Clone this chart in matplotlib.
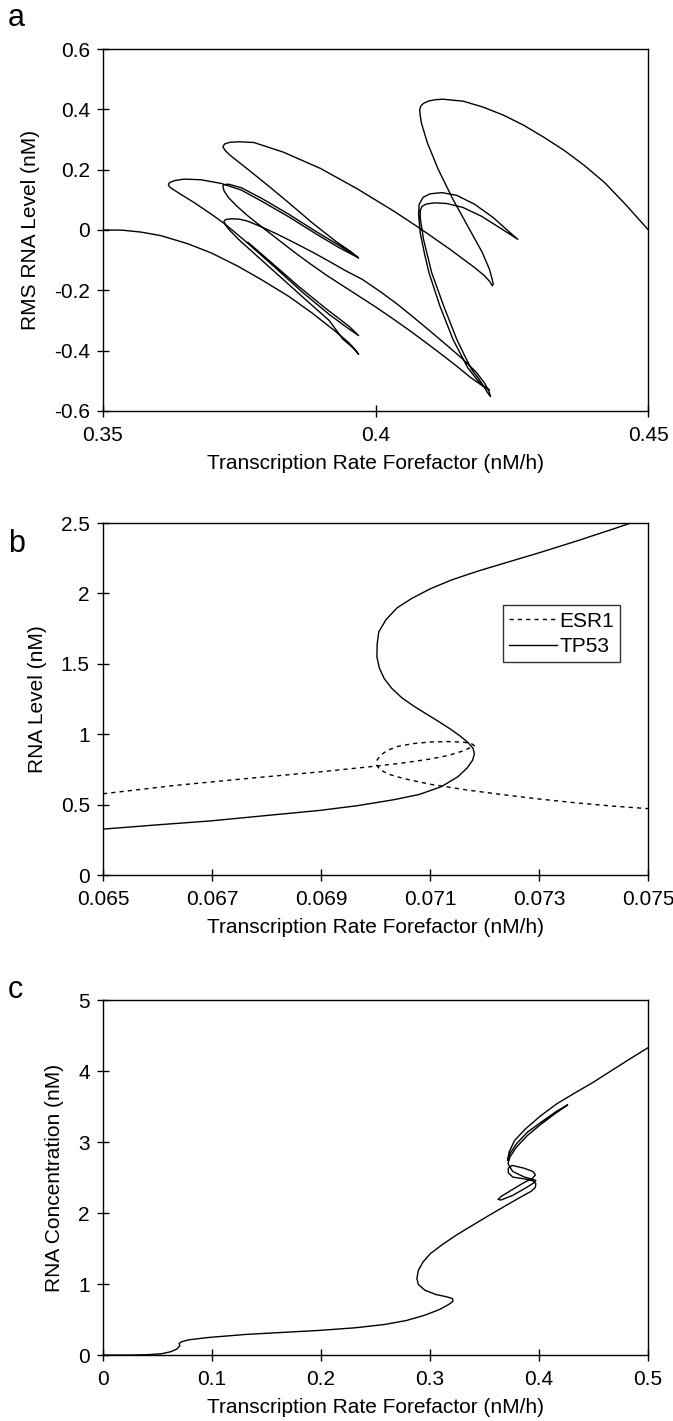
import matplotlib
matplotlib.use("Agg")
import matplotlib.pyplot as plt
from matplotlib.ticker import FuncFormatter

plt.rcParams['font.family'] = ['Liberation Sans', 'DejaVu Sans']
plt.rcParams['axes.unicode_minus'] = False

# ---------------- panel a : RMS RNA level vs forefactor ----------------
# main continuation branch
a_main_x = [0.35, 0.3535, 0.357, 0.3606, 0.3655, 0.3699, 0.3748, 0.3791, 0.3841, 0.3884, 0.3927, 0.3950, 0.3962, 0.3969,
            0.3965, 0.3955, 0.3940, 0.3915, 0.3865, 0.3822, 0.3779, 0.3748, 0.3732, 0.3724, 0.3722,
            0.3725, 0.3735, 0.3750, 0.3766, 0.3791, 0.3820, 0.3853, 0.3885, 0.3915, 0.3945, 0.3976, 0.4010, 0.4040,
            0.4070, 0.4100, 0.4130, 0.4160, 0.4185, 0.4200, 0.4208, 0.4211,
            0.4205, 0.4199, 0.4188, 0.4176, 0.4163, 0.4149, 0.4125, 0.4103, 0.4088, 0.4082, 0.4082, 0.4085, 0.4093,
            0.4108, 0.4130, 0.4160, 0.4195, 0.4230, 0.4261,
            0.4245, 0.4216, 0.4182, 0.4149, 0.4122, 0.4100, 0.4087, 0.4080, 0.4079, 0.4082, 0.4090, 0.4098, 0.4118,
            0.4142, 0.4169, 0.4193, 0.4205, 0.4209,
            0.4195, 0.4175, 0.4150, 0.4120, 0.4090, 0.4060, 0.4030, 0.4000, 0.3970, 0.3940, 0.3910, 0.3880, 0.3850,
            0.3820, 0.3790, 0.3765, 0.3745, 0.3730, 0.3722, 0.3720,
            0.3722, 0.3730, 0.3754, 0.3791, 0.3841, 0.3890, 0.3933, 0.3960, 0.3969,
            0.3955, 0.3927, 0.3884, 0.3841, 0.3804, 0.3766, 0.3747, 0.3733, 0.3724, 0.3720, 0.3723, 0.3732, 0.3750,
            0.3777, 0.3831, 0.3899, 0.3966, 0.4034, 0.4081, 0.4135, 0.4182, 0.4200, 0.4210, 0.4214,
            0.4216, 0.4214, 0.4209, 0.4196, 0.4169, 0.4142, 0.4115, 0.4095, 0.4084, 0.4082, 0.4081, 0.4083, 0.4088,
            0.4098, 0.4110, 0.4124, 0.4161, 0.4198, 0.4235, 0.4272, 0.4309, 0.4346, 0.4383, 0.4420, 0.4457, 0.45]
a_main_y = [0.0, -0.0005, -0.007, -0.0186, -0.0452, -0.0763, -0.1206, -0.1650, -0.2204, -0.2758, -0.3368, -0.3720, -0.3950, -0.4122,
            -0.4030, -0.3850, -0.3620, -0.3000, -0.2200, -0.1500, -0.0800, -0.0300, 0.0000, 0.0180, 0.0291,
            0.0345, 0.0372, 0.0360, 0.0290, 0.0100, -0.0140, -0.0440, -0.0740, -0.1040, -0.1350, -0.1640, -0.2060, -0.2460,
            -0.2900, -0.3350, -0.3810, -0.4280, -0.4720, -0.5080, -0.5350, -0.5525,
            -0.5380, -0.5200, -0.4900, -0.4619, -0.4150, -0.3624, -0.2519, -0.1414, -0.0309, 0.0400, 0.0640, 0.0780, 0.0860,
            0.0900, 0.0880, 0.0750, 0.0450, 0.0050, -0.0309,
            -0.0060, 0.0409, 0.0851, 0.1149, 0.1238, 0.1200, 0.1080, 0.0850, 0.0500, -0.0100, -0.0800, -0.1414, -0.2519,
            -0.3624, -0.4564, -0.5116, -0.5250, -0.5304,
            -0.5150, -0.4900, -0.4530, -0.4110, -0.3700, -0.3300, -0.2920, -0.2550, -0.2200, -0.1850, -0.1500, -0.1120, -0.0720,
            -0.0300, 0.0120, 0.0480, 0.0800, 0.1080, 0.1300, 0.1455,
            0.1500, 0.1520, 0.1400, 0.1050, 0.0520, -0.0040, -0.0510, -0.0820, -0.0929,
            -0.0720, -0.0375, 0.0235, 0.0900, 0.1455, 0.2009, 0.2280, 0.2480, 0.2640, 0.2760, 0.2850, 0.2905, 0.2925,
            0.2900, 0.2580, 0.2040, 0.1370, 0.0620, 0.0060, -0.0620, -0.1250, -0.1520, -0.1720, -0.1850,
            -0.1800, -0.1635, -0.1304, -0.0751, 0.0133, 0.1017, 0.2011, 0.2895, 0.3558, 0.3800, 0.3980, 0.4110, 0.4200,
            0.4280, 0.4320, 0.4336, 0.4270, 0.4070, 0.3804, 0.3471, 0.3072, 0.2640, 0.2141, 0.1576, 0.0878, 0.0013]

# isolated loop on the left
a_loop_x = [0.3967, 0.3933, 0.3890, 0.3841, 0.3791, 0.3754, 0.3717, 0.3680, 0.3649, 0.3632, 0.3623, 0.3620,
            0.3622, 0.3630, 0.3643, 0.3668, 0.3699, 0.3723, 0.3760, 0.3810, 0.3865, 0.3915, 0.3952, 0.3969,
            0.3952, 0.3908, 0.3859, 0.3810, 0.3766]
a_loop_y = [-0.0907, -0.0585, -0.0120, 0.0435, 0.0956, 0.1322, 0.1543, 0.1665, 0.1687, 0.1640, 0.1580, 0.1510,
            0.1430, 0.1330, 0.1180, 0.0900, 0.0520, 0.0210, -0.0350, -0.1150, -0.2050, -0.2800, -0.3290, -0.3501,
            -0.3202, -0.2592, -0.1871, -0.1095, -0.0408]

# ---------------- panel b : ESR1 / TP53 ----------------
esr1_x = [0.065, 0.066282, 0.067631, 0.06898, 0.069992, 0.070500, 0.071003, 0.071340, 0.071610, 0.071813,
          0.071760, 0.071610, 0.071340, 0.071003, 0.070700, 0.070430, 0.070230, 0.070100, 0.070030, 0.070025,
          0.070080, 0.070250, 0.070530, 0.071003, 0.071678, 0.072352, 0.073027, 0.073701, 0.074376, 0.075]
esr1_y = [0.5773, 0.6350, 0.6852, 0.7329, 0.7731, 0.7960, 0.8240, 0.8500, 0.8820, 0.9187,
          0.9330, 0.9440, 0.9480, 0.9450, 0.9340, 0.9160, 0.8880, 0.8540, 0.8180, 0.7800,
          0.7480, 0.7150, 0.6840, 0.6450, 0.6040, 0.5700, 0.5390, 0.5120, 0.4890, 0.4719]

tp53_x = [0.065, 0.066079, 0.066956, 0.067968, 0.06898, 0.069654, 0.070329, 0.070801, 0.071206, 0.071509,
          0.071680, 0.071780, 0.071813, 0.071790, 0.071700, 0.071560, 0.071380, 0.071160, 0.070930, 0.070700,
          0.070480, 0.070300, 0.070160, 0.070070, 0.070025, 0.070030, 0.070059, 0.070194, 0.070396, 0.070666,
          0.071003, 0.071408, 0.071880, 0.072352, 0.073027, 0.073701, 0.074376, 0.07468]
tp53_y = [0.3263, 0.3589, 0.3840, 0.4217, 0.4593, 0.4920, 0.5346, 0.5723, 0.6275, 0.6978,
          0.7600, 0.8150, 0.8600, 0.9000, 0.9400, 0.9850, 1.0350, 1.0900, 1.1450, 1.2000,
          1.2600, 1.3250, 1.3950, 1.4700, 1.5500, 1.6400, 1.7270, 1.8150, 1.8980, 1.9650,
          2.0330, 2.0980, 2.1590, 2.2140, 2.2920, 2.3740, 2.4600, 2.5]

# ---------------- panel c : RNA concentration ----------------
c_x = [0.0, 0.0235, 0.0403, 0.0537, 0.0621, 0.0678, 0.0705, 0.0698, 0.0721, 0.0789, 0.0973, 0.1309, 0.1644,
       0.1980, 0.2315, 0.2584, 0.2785, 0.2953, 0.3087, 0.3171, 0.3211, 0.3205, 0.3154, 0.3054, 0.2953, 0.2893,
       0.2879, 0.2893, 0.2936, 0.3003, 0.3104, 0.3238, 0.3389, 0.3557, 0.3725, 0.3859,
       0.3926, 0.3966, 0.3970, 0.3943, 0.3859, 0.3758, 0.3718, 0.3718, 0.3752, 0.3859, 0.3943, 0.3966,
       0.3943, 0.3859, 0.3758, 0.3658, 0.3624, 0.3651, 0.3758, 0.3876, 0.3953, 0.3970,
       0.3859, 0.3758, 0.3715, 0.3732, 0.3792, 0.3893, 0.4010, 0.4144, 0.4262,
       0.4161, 0.4027, 0.3893, 0.3792, 0.3732, 0.3711,
       0.3725, 0.3775, 0.3876, 0.4010, 0.4161, 0.4329, 0.4497, 0.4664, 0.4832, 0.5]
c_y = [0.0, 0.0, 0.0047, 0.0187, 0.0469, 0.0843, 0.1312, 0.1640, 0.1874, 0.2156, 0.2484, 0.2905, 0.3187,
       0.3468, 0.3843, 0.4311, 0.4874, 0.5623, 0.6420, 0.7123, 0.7591, 0.7966, 0.8201, 0.8529, 0.9138, 0.9934,
       1.0778, 1.1949, 1.3121, 1.4292, 1.5464, 1.6870, 1.8276, 1.9822, 2.1322, 2.2493,
       2.3055, 2.3618, 2.4180, 2.4555, 2.4836, 2.5070, 2.5679, 2.6335, 2.6710, 2.6335, 2.5867, 2.5398,
       2.4930, 2.4274, 2.3336, 2.2399, 2.1930, 2.1837, 2.2493, 2.3524, 2.4274, 2.4602,
       2.5117, 2.5867, 2.6945, 2.7882, 2.9288, 3.0928, 3.2427, 3.3974, 3.5239,
       3.4349, 3.2896, 3.1396, 2.9756, 2.8350, 2.7413,
       2.8585, 3.0225, 3.1865, 3.3645, 3.5380, 3.6925, 3.8426, 4.0066, 4.1706, 4.33]

fmt = FuncFormatter(lambda v, p: '%g' % round(v, 4))

fig = plt.figure(figsize=(6.73, 14.21), dpi=100)
lab_size = 15
line_kw = dict(color='black', lw=1.0)


def style(ax, xt, yt, xlim, ylim, ylabel):
    ax.set_xlim(*xlim)
    ax.set_ylim(*ylim)
    ax.set_xticks(xt)
    ax.set_yticks(yt)
    ax.xaxis.set_major_formatter(fmt)
    ax.yaxis.set_major_formatter(fmt)
    ax.tick_params(direction='inout', length=9, width=1, labelsize=lab_size)
    ax.tick_params(axis='x', pad=6)
    ax.tick_params(axis='y', pad=5)
    for s in ax.spines.values():
        s.set_linewidth(1.0)
    ax.set_xlabel('Transcription Rate Forefactor (nM/h)', fontsize=lab_size, labelpad=7)
    ax.set_ylabel(ylabel, fontsize=lab_size, labelpad=10)


ax1 = fig.add_axes([0.153, 0.7108, 0.810, 0.2547])
ax1.plot(a_main_x, a_main_y, **line_kw)
ax1.plot(a_loop_x, a_loop_y, **line_kw)
style(ax1, [0.35, 0.4, 0.45], [-0.6, -0.4, -0.2, 0, 0.2, 0.4, 0.6], (0.35, 0.45), (-0.6, 0.6),
      'RMS RNA Level (nM)')

ax2 = fig.add_axes([0.153, 0.3842, 0.810, 0.2477])
ax2.plot(esr1_x, esr1_y, color='black', lw=1.0, ls=(0, (3, 3)), label='ESR1')
ax2.plot(tp53_x, tp53_y, color='black', lw=1.0, label='TP53')
style(ax2, [0.065, 0.067, 0.069, 0.071, 0.073, 0.075], [0, 0.5, 1, 1.5, 2, 2.5], (0.065, 0.075), (0, 2.5),
      'RNA Level (nM)')
leg = ax2.legend(loc='upper left', bbox_to_anchor=(0.734, 0.766), fontsize=lab_size, frameon=True,
                 fancybox=False, edgecolor='black', handlelength=2.3, handletextpad=0.1,
                 borderpad=0.3, labelspacing=0.3, borderaxespad=0)
leg.get_frame().set_linewidth(1.0)

ax3 = fig.add_axes([0.153, 0.0464, 0.810, 0.2498])
ax3.plot(c_x, c_y, **line_kw)
style(ax3, [0, 0.1, 0.2, 0.3, 0.4, 0.5], [0, 1, 2, 3, 4, 5], (0, 0.5), (0, 5),
      'RNA Concentration (nM)')

for lett, yy in [('a', 0.987), ('b', 0.6175), ('c', 0.3035)]:
    fig.text(0.012, yy, lett, fontsize=22, va='center', ha='left')

fig.savefig('out.png', dpi=100)
